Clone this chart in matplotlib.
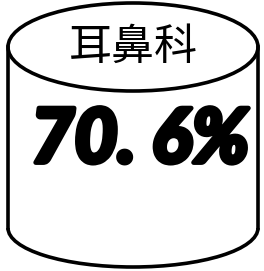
import matplotlib.pyplot as plt
from matplotlib.patches import Ellipse, Arc
import matplotlib.patheffects as pe

department = ["耳鼻科"]
share = [70.6]
labels = ["70. 6%"]

fig = plt.figure(figsize=(2.64, 2.71), dpi=100)
ax = fig.add_axes([0, 0, 1, 1])
ax.set_xlim(0, 264)
ax.set_ylim(271, 0)
ax.axis('off')

lw = 2.6
cx, w = 133, 250
top_y, top_h = 47, 88
bot_y, bot_h = 228, 78

# cylinder body
ax.plot([cx - w / 2, cx - w / 2], [top_y, bot_y], color='black', lw=lw)
ax.plot([cx + w / 2, cx + w / 2], [top_y, bot_y], color='black', lw=lw)
ax.add_patch(Arc((cx, bot_y), w, bot_h, theta1=0, theta2=180, color='black', lw=lw))
ax.add_patch(Ellipse((cx, top_y), w, top_h, facecolor='white', edgecolor='black', lw=lw))

ax.text(cx, top_y + 1, department[0], ha='center', va='center', fontsize=31,
        family=['Noto Sans CJK JP', 'DejaVu Sans'])
ax.text(cx + 7, 141, labels[0], ha='center', va='center', fontsize=54,
        family=['Lato', 'DejaVu Sans'], weight='black', style='italic',
        path_effects=[pe.withStroke(linewidth=3.5, foreground='black')])

fig.savefig('out.png', dpi=100)
